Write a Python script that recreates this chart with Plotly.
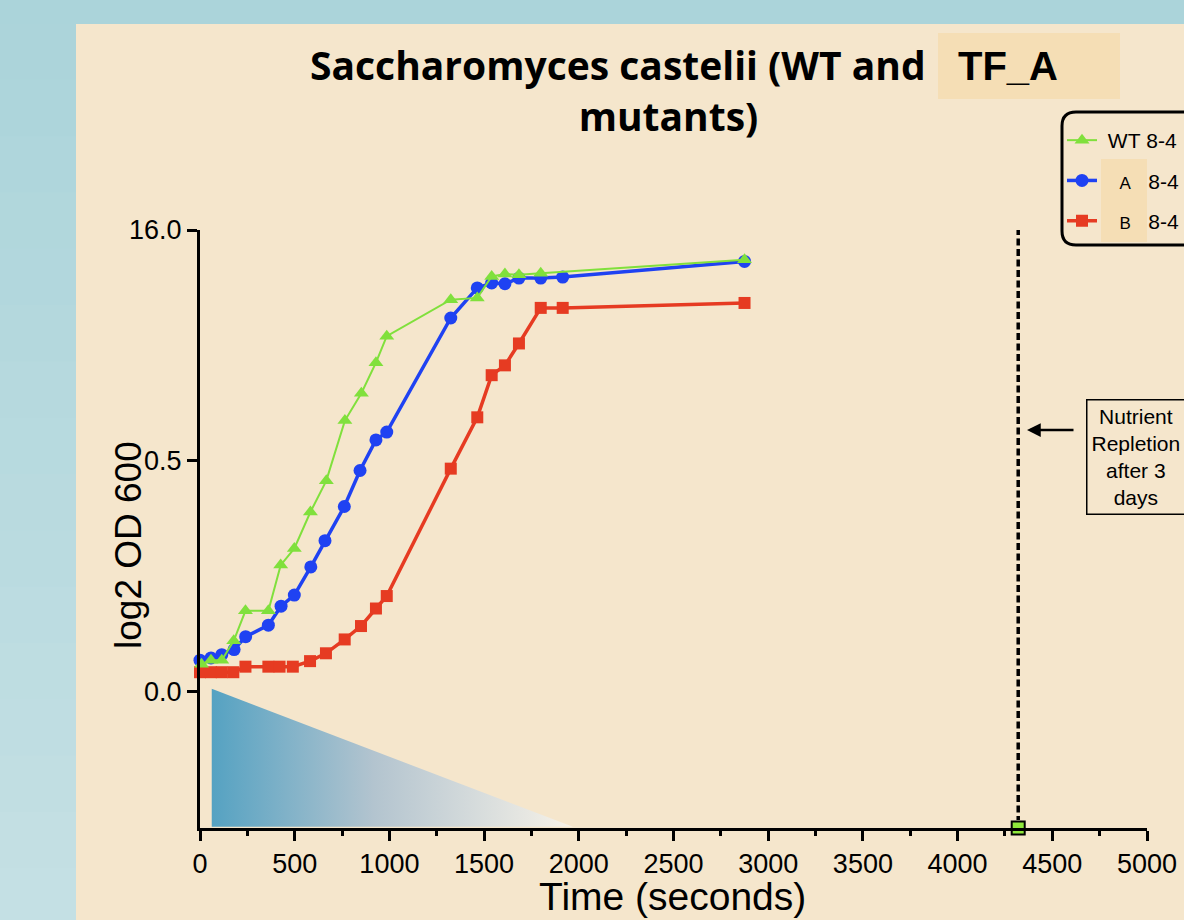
import plotly.graph_objects as go

# ---------------- data ----------------
wt_time = [8, 58, 115, 178, 240, 361, 426, 498, 583, 667, 765, 852, 929, 986, 1324, 1464, 1540, 1610, 1684, 1799, 2875]
wt_od = [0.059, 0.068, 0.068, 0.110, 0.175, 0.175, 0.274, 0.310, 0.389, 0.457, 3.20, 5.04, 7.09, 8.87,
         11.32, 11.44, 12.88, 13.04, 12.99, 13.10, 14.00]

a_time = [0, 58, 115, 180, 241, 361, 428, 498, 585, 660, 762, 845, 929, 986, 1324, 1464, 1540, 1610, 1684, 1799, 1915, 2875]
a_od = [0.068, 0.073, 0.080, 0.091, 0.119, 0.144, 0.185, 0.209, 0.270, 0.327, 0.401, 0.479, 1.90, 2.43,
        10.09, 12.11, 12.44, 12.39, 12.77, 12.77, 12.84, 13.89]

b_time = [0, 58, 115, 176, 240, 361, 420, 490, 581, 665, 764, 850, 929, 986, 1324, 1464, 1540, 1610, 1684, 1799, 1915, 2875]
b_od = [0.042, 0.042, 0.042, 0.042, 0.054, 0.054, 0.054, 0.054, 0.066, 0.083, 0.113, 0.142, 0.180, 0.207,
        0.483, 3.42, 6.25, 6.91, 8.38, 10.77, 10.77, 11.10]

series_names = ["\u00a0WT\u00a08-4",
                "\u00a0\u00a0\u00a0<span style=\"font-size:17px\">A</span>\u00a0\u00a0\u00a08-4",
                "\u00a0\u00a0\u00a0<span style=\"font-size:17px\">B</span>\u00a0\u00a0\u00a08-4"]

repletion_time = [4320, 4320]
repletion_od = [16.13, -0.278]
repletion_marker_time = [4320]
repletion_marker_od = [-0.2955]

gradient_time = [62, 62, 1969, 62]
gradient_od = [0.006, -0.293, -0.293, 0.006]

y_tick_values = [0.0, 0.5, 16.0]
y_tick_labels = ["0.0", "0.5", "16.0"]
x_tick_values = [0, 500, 1000, 1500, 2000, 2500, 3000, 3500, 4000, 4500, 5000]

title_line1 = "Saccharomyces castelii (WT and"
title_line2 = "mutants)"
title_insert = "TF_A"
note_text = "Nutrient<br>Repletion<br>after 3<br>days"


# piecewise (segmented) y axis: 0-0.5 and 0.5-16 each take one unit
def to_axis(v):
    return v / 0.5 if v <= 0.5 else 1 + (v - 0.5) / 15.5


def tr(vals):
    return [to_axis(v) for v in vals]


# ---------------- layout helpers (pixel -> paper) ----------------
W, H = 1184, 920
L, R, T, B = 200, 1147, 230, 828


def px(x):
    return (x - L) / (R - L)


def py(y):
    return (B - y) / (B - T)


BEIGE = "#f5e6cc"
HILITE = "#f5deb5"
GREEN = "#80e03c"
BLUE = "#1f42f2"
RED = "#e63b22"

fig = go.Figure()

# gradient triangle
fig.add_trace(go.Scatter(
    x=gradient_time, y=tr(gradient_od), mode="lines", fill="toself",
    line=dict(width=0, color="rgba(0,0,0,0)"),
    fillgradient=dict(type="horizontal",
                      colorscale=[[0, "#55a2c2"], [0.45, "#b3c4cf"], [1, "#f7f2e8"]]),
    showlegend=False, hoverinfo="skip"))

# repletion dotted line
fig.add_trace(go.Scatter(
    x=repletion_time, y=tr(repletion_od), mode="lines",
    line=dict(color="black", width=3.5, dash="7px,3.5px"),
    showlegend=False, hoverinfo="skip", cliponaxis=False))

fig.add_trace(go.Scatter(
    x=b_time, y=tr(b_od), mode="lines+markers", name=series_names[2],
    legendgroup="b", legendrank=3,
    line=dict(color=RED, width=3.5),
    marker=dict(symbol="square", size=12, color=RED),
    cliponaxis=False))

fig.add_trace(go.Scatter(
    x=a_time, y=tr(a_od), mode="lines+markers", name=series_names[1],
    legendgroup="a", legendrank=2,
    line=dict(color=BLUE, width=3.5),
    marker=dict(symbol="circle", size=13, color=BLUE),
    cliponaxis=False))

fig.add_trace(go.Scatter(
    x=wt_time, y=tr(wt_od), mode="lines+markers", name=series_names[0],
    legendgroup="wt", legendrank=1,
    line=dict(color=GREEN, width=2),
    marker=dict(symbol="triangle-up", size=13, color=GREEN),
    cliponaxis=False))

fig.add_trace(go.Scatter(
    x=repletion_marker_time, y=tr(repletion_marker_od), mode="markers",
    marker=dict(symbol="square", size=13, color="#8fe83c", line=dict(color="black", width=2)),
    showlegend=False, hoverinfo="skip", cliponaxis=False))

# ---------------- shapes ----------------
shapes = []
# slide background strips
shapes.append(dict(type="rect", xref="paper", yref="paper", x0=px(-5), x1=px(W + 5), y0=py(24), y1=py(-5),
                   fillcolor="#abd4da", line=dict(width=0), layer="below"))
n_bands = 16
top_c = (171, 212, 218)
bot_c = (197, 224, 228)
for i in range(n_bands):
    f = (i + 0.5) / n_bands
    c = tuple(int(round(top_c[k] + (bot_c[k] - top_c[k]) * f)) for k in range(3))
    y0p = 24 + (H + 5 - 24) * i / n_bands
    y1p = 24 + (H + 5 - 24) * (i + 1) / n_bands
    shapes.append(dict(type="rect", xref="paper", yref="paper", x0=px(-5), x1=px(76),
                       y0=py(y1p + 0.5), y1=py(y0p - 0.5),
                       fillcolor="rgb(%d,%d,%d)" % c, line=dict(width=0), layer="below"))
# title highlight
shapes.append(dict(type="rect", xref="paper", yref="paper", x0=px(938), x1=px(1120), y0=py(99), y1=py(33),
                   fillcolor=HILITE, line=dict(width=0), layer="below"))
# legend highlight
shapes.append(dict(type="rect", xref="paper", yref="paper", x0=px(1101), x1=px(1147), y0=py(242), y1=py(159),
                   fillcolor=HILITE, line=dict(width=0), layer="below"))
# legend rounded border
x0, x1, y0, y1, r = 1062, 1260, 112, 245, 14


def P(x, y):
    return "%.5f,%.5f" % (px(x), py(y))


path = ("M " + P(x0 + r, y0) + " L " + P(x1 - r, y0) + " Q " + P(x1, y0) + " " + P(x1, y0 + r) +
        " L " + P(x1, y1 - r) + " Q " + P(x1, y1) + " " + P(x1 - r, y1) +
        " L " + P(x0 + r, y1) + " Q " + P(x0, y1) + " " + P(x0, y1 - r) +
        " L " + P(x0, y0 + r) + " Q " + P(x0, y0) + " " + P(x0 + r, y0) + " Z")
shapes.append(dict(type="path", xref="paper", yref="paper", path=path,
                   line=dict(color="black", width=3), fillcolor="rgba(0,0,0,0)", layer="above"))

# ---------------- annotations ----------------
title_text = "<b>" + title_line1 + "<br>" + "\u00a0" * 10 + title_line2 + "</b>"
annotations = [
    dict(text=title_text, xref="paper", yref="paper",
         x=px(618), y=py(90), xanchor="center", yanchor="middle", align="center", showarrow=False,
         font=dict(family="Open Sans", size=39, color="black")),
    dict(text="<b>" + title_insert + "</b>", xref="paper", yref="paper",
         x=px(956), y=py(66), xanchor="left", yanchor="middle", showarrow=False,
         font=dict(family="Liberation Sans", size=40, color="black")),
    dict(text="log2 OD 600", xref="paper", yref="paper", textangle=-90,
         x=px(128), y=py(545), xanchor="center", yanchor="middle", showarrow=False,
         font=dict(family="Liberation Sans", size=37, color="black")),
    dict(text="Time (seconds)", xref="paper", yref="paper",
         x=px(672), y=py(896), xanchor="center", yanchor="middle", showarrow=False,
         font=dict(family="Liberation Sans", size=39, color="black")),
    dict(text=note_text, xref="paper", yref="paper",
         x=px(1086), y=py(457), xanchor="left", yanchor="middle", showarrow=False,
         align="center", bordercolor="black", borderwidth=1.5, borderpad=4, bgcolor=BEIGE,
         font=dict(family="Liberation Sans", size=21, color="black")),
    dict(text="", xref="paper", yref="paper", x=px(1027), y=py(430), ax=48, ay=0,
         showarrow=True, arrowhead=2, arrowsize=1.1, arrowwidth=2.5, arrowcolor="black"),
]

fig.update_layout(
    width=W, height=H, autosize=False,
    margin=dict(l=L, r=W - R, t=T, b=H - B, pad=0, autoexpand=False),
    paper_bgcolor=BEIGE, plot_bgcolor="rgba(0,0,0,0)",
    font=dict(family="Liberation Sans", color="black"),
    showlegend=True,
    legend=dict(x=px(1062), y=py(120), xanchor="left", yanchor="top",
                bgcolor="rgba(0,0,0,0)", borderwidth=0, tracegroupgap=10,
                font=dict(family="Liberation Sans", size=21, color="black")),
    xaxis=dict(range=[0, 5000], tickvals=x_tick_values, showgrid=False, zeroline=False,
               showline=True, linewidth=3, linecolor="black",
               ticks="outside", ticklen=10, tickwidth=3, tickcolor="black",
               tickfont=dict(family="Liberation Sans", size=27, color="black"),
               minor=dict(dtick=250, ticks="outside", ticklen=5, tickwidth=2.5, tickcolor="black")),
    yaxis=dict(range=[-0.591, 2.0], tickvals=tr(y_tick_values), ticktext=y_tick_labels,
               showgrid=False, zeroline=False,
               showline=True, linewidth=3, linecolor="black",
               ticks="outside", ticklen=10, tickwidth=3, tickcolor="black",
               tickfont=dict(family="Liberation Sans", size=27, color="black")),
    shapes=shapes, annotations=annotations,
)

fig.write_html("out.html", config={"displayModeBar": False},
               post_script="document.body.style.margin='0px';document.body.style.overflow='hidden';")
